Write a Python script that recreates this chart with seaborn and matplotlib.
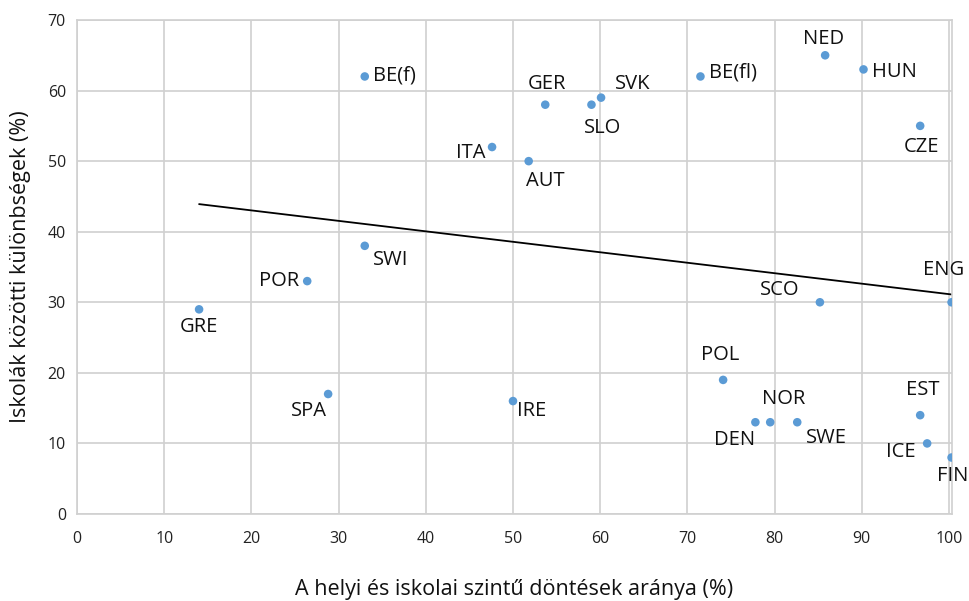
import pandas as pd
import matplotlib
matplotlib.use("Agg")
import matplotlib.pyplot as plt
import seaborn as sns

# data
countries = ["GRE", "POR", "SPA", "BE(f)", "SWI", "ITA", "AUT", "IRE", "GER", "SLO",
             "SVK", "BE(fl)", "POL", "DEN", "NOR", "SWE", "SCO", "NED", "HUN", "CZE",
             "EST", "ICE", "ENG", "FIN"]
local_share = [14, 26.4, 28.8, 33, 33, 47.6, 51.8, 50, 53.7, 59,
               60.1, 71.5, 74.1, 77.8, 79.5, 82.6, 85.2, 85.8, 90.2, 96.7,
               96.7, 97.5, 100.3, 100.3]
school_diff = [29, 33, 17, 62, 38, 52, 50, 16, 58, 58,
               59, 62, 19, 13, 13, 13, 30, 65, 63, 55,
               14, 10, 30, 8]

# label placement (offset in points, horizontal alignment)
label_pos = {
    "GRE": (0, -13, "center"), "POR": (-6, 0, "right"), "SPA": (-14, -12, "center"),
    "BE(f)": (6, 1, "left"), "SWI": (6, -10, "left"), "ITA": (-5, -4, "right"),
    "AUT": (-2, -14, "left"), "IRE": (3, -7, "left"), "GER": (1, 15, "center"),
    "SLO": (8, -17, "center"), "SVK": (10, 10, "left"), "BE(fl)": (6, 3, "left"),
    "POL": (-2, 18, "center"), "DEN": (-15, -13, "center"), "NOR": (10, 17, "center"),
    "SWE": (21, -11, "center"), "SCO": (-29, 9, "center"), "NED": (-1, 12, "center"),
    "HUN": (6, -2, "left"), "CZE": (1, -15, "center"), "EST": (2, 18, "center"),
    "ICE": (-8, -6, "right"), "ENG": (-6, 23, "center"), "FIN": (1, -13, "center"),
}

df = pd.DataFrame({"country": countries, "x": local_share, "y": school_diff})

sns.set_style("white")
plt.rcParams["font.family"] = ["Open Sans", "DejaVu Sans"]

fig = plt.figure(figsize=(9.7, 6.01), dpi=100)
ax = fig.add_axes([0.0794, 0.1448, 0.9016, 0.8219])

sns.regplot(data=df, x="x", y="y", scatter=False, ci=None, truncate=True,
            line_kws={"color": "black", "lw": 1.3}, ax=ax)
sns.scatterplot(data=df, x="x", y="y", color="#5B9BD5", s=38, edgecolor="none",
                zorder=3, ax=ax)

for c, x, y in zip(countries, local_share, school_diff):
    dx, dy, ha = label_pos[c]
    ax.annotate(c, (x, y), xytext=(dx, dy), textcoords="offset points",
                ha=ha, va="center", fontsize=14.5, color="#111111")

ax.set_xlim(0, 100.3)
ax.set_ylim(0, 70)
ax.set_xticks(range(0, 101, 10))
ax.set_yticks(range(0, 71, 10))
ax.grid(True, color="#d0d0d0", lw=1.2)
ax.set_axisbelow(True)
for s in ax.spines.values():
    s.set_color("#d0d0d0")
    s.set_linewidth(1.2)
ax.tick_params(length=0, labelsize=11.5, colors="#222222")
ax.tick_params(axis="x", pad=12)
ax.tick_params(axis="y", pad=8)

ax.set_xlabel("A helyi és iskolai szintű döntések aránya (%)", fontsize=15.5,
              labelpad=23, color="#111111")
ax.set_ylabel("Iskolák közötti különbségek (%)", fontsize=15.5, labelpad=12,
              color="#111111")

fig.savefig("out.png", dpi=100)
